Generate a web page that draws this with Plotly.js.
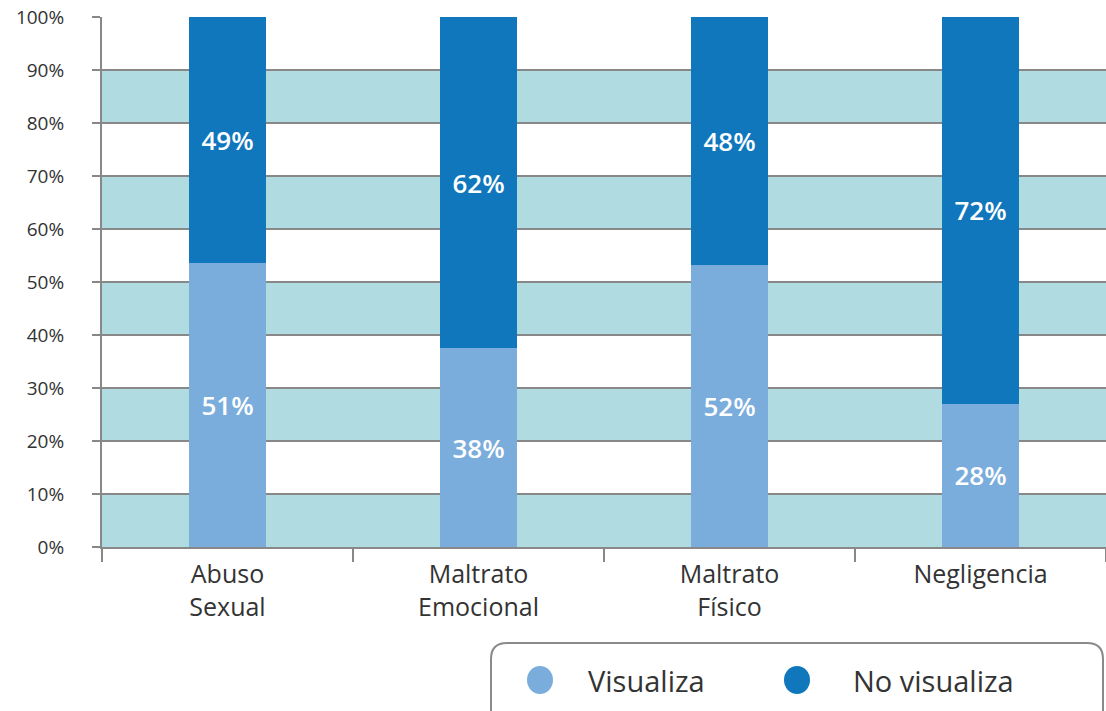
<!DOCTYPE html>
<html><head><meta charset="utf-8">
<script src="https://cdn.plot.ly/plotly-3.0.1.min.js"></script>
<style>html,body{margin:0;padding:0;background:#fff}#c{width:1106px;height:711px}</style>
</head><body><div id="c"></div>
<script>
const categories = ['Abuso<br>Sexual', 'Maltrato<br>Emocional', 'Maltrato<br>Físico', 'Negligencia'];
const visualiza = [53.5, 37.5, 53.2, 27];
const noVisualiza = [46.5, 62.5, 46.8, 73];
const visualizaLabels = ['51%', '38%', '52%', '28%'];
const noVisualizaLabels = ['49%', '62%', '48%', '72%'];
const seriesNames = ['Visualiza', 'No visualiza'];
const yTickVals = [0,10,20,30,40,50,60,70,80,90,100];
const yTickText = ['0%','10%','20%','30%','40%','50%','60%','70%','80%','90%','100%'];

const FONT = 'Open Sans, sans-serif';
const cLight = '#7aaddc', cDark = '#1077bd';

const traces = [
  {type:'bar', name:seriesNames[0], x:categories, y:visualiza, text:visualizaLabels, textposition:'inside', insidetextanchor:'middle',
   textfont:{color:'#fff', size:26, family:FONT, weight:600}, marker:{color:cLight}, showlegend:false, hoverinfo:'skip', width:0.31},
  {type:'bar', name:seriesNames[1], x:categories, y:noVisualiza, text:noVisualizaLabels, textposition:'inside', insidetextanchor:'middle',
   textfont:{color:'#fff', size:26, family:FONT, weight:600}, marker:{color:cDark}, showlegend:false, hoverinfo:'skip', width:0.31}
];

const W = 1004, H = 530;
const px = v => (v-102)/W, py = v => (547-v)/H;
const shapes = [];
for (let i = 0; i < 100; i += 20) {
  shapes.push({type:'rect', xref:'paper', yref:'y', x0:0, x1:1, y0:i, y1:i+10, fillcolor:'#b0dbe0', line:{width:0}, layer:'below'});
}
// rounded legend box
const r = 16;
const bx0 = px(491), bx1 = px(1103), by0 = py(643), by1 = py(730);
const rx = r/W, ry = r/H;
shapes.push({type:'path', xref:'paper', yref:'paper',
  path:`M ${bx0+rx} ${by0} L ${bx1-rx} ${by0} Q ${bx1} ${by0} ${bx1} ${by0-ry} L ${bx1} ${by1} L ${bx0} ${by1} L ${bx0} ${by0-ry} Q ${bx0} ${by0} ${bx0+rx} ${by0} Z`,
  line:{color:'#8a8a8a', width:2}, fillcolor:'rgba(0,0,0,0)', layer:'above'});
// legend markers
const legendItems = [{cx:540, tx:586, color:cLight}, {cx:797, tx:851, color:cDark}];
const annotations = [];
legendItems.forEach((it, i) => {
  shapes.push({type:'circle', xref:'paper', yref:'paper', x0:px(it.cx-13), x1:px(it.cx+13), y0:py(680-14), y1:py(680+14),
    fillcolor:it.color, line:{width:0}, layer:'above'});
  annotations.push({xref:'paper', yref:'paper', x:px(it.tx), y:py(680), xanchor:'left', yanchor:'middle', showarrow:false,
    text:seriesNames[i], font:{size:29, color:'#333', family:FONT}});
});

const layout = {
  width:1106, height:711,
  margin:{l:102, r:0, t:17, b:164},
  paper_bgcolor:'#fff', plot_bgcolor:'#fff',
  barmode:'stack', bargap:0.69, showlegend:false,
  font:{family:FONT, color:'#333'},
  xaxis:{range:[-0.5,3.5], tickson:'boundaries', ticks:'outside', ticklen:13, tickwidth:2, tickcolor:'#888',
    showgrid:false, showline:true, linecolor:'#888', linewidth:2, tickfont:{size:25, color:'#333', family:FONT},
    ticklabelstandoff:4, fixedrange:true},
  yaxis:{range:[0,100], tickvals:yTickVals, ticktext:yTickText, ticks:'outside', ticklen:8, tickwidth:2, tickcolor:'#888',
    showgrid:true, gridcolor:'#888', gridwidth:2, showline:true, linecolor:'#888', linewidth:2, zeroline:false,
    tickfont:{size:19, color:'#333', family:FONT}, ticklabelstandoff:24, fixedrange:true},
  shapes:shapes, annotations:annotations
};
Plotly.newPlot('c', traces, layout, {displayModeBar:false, staticPlot:true});
</script></body></html>
